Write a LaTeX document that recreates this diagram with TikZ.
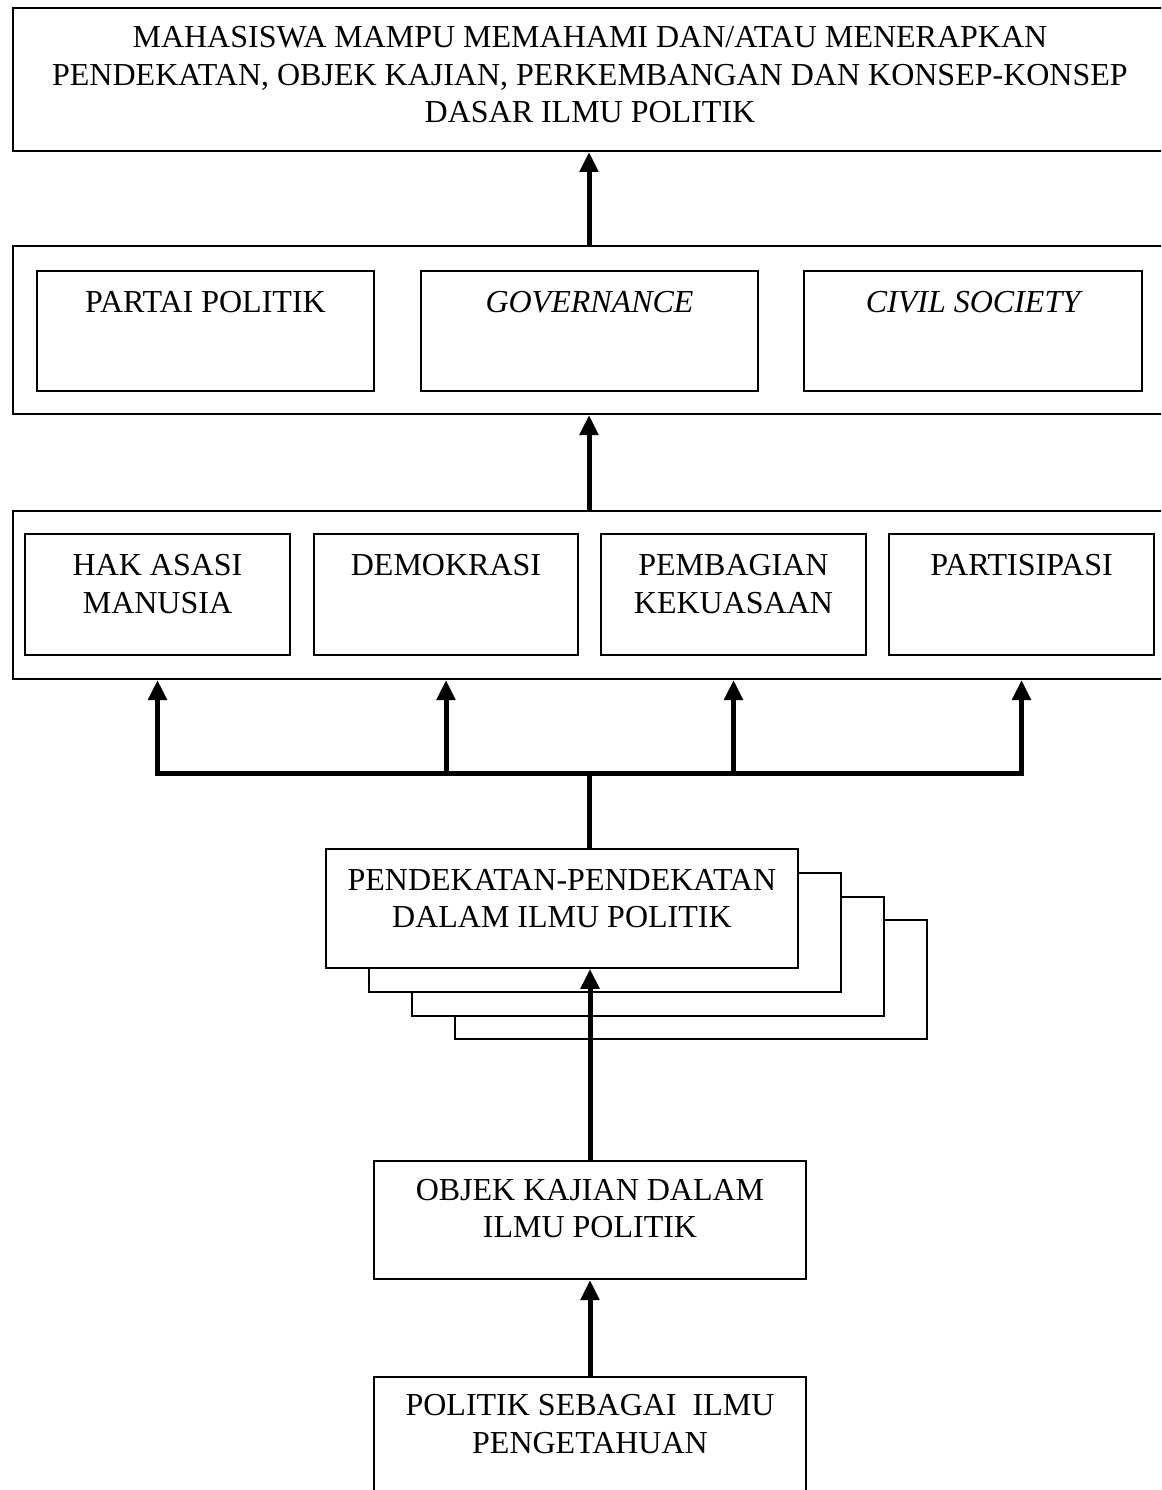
\documentclass[tikz,border=0pt]{standalone}
\usepackage{fontspec}
\setmainfont{Liberation Serif}
\usetikzlibrary{arrows.meta}
\begin{document}
\begin{tikzpicture}[x=1pt,y=-1pt,
  box/.style={draw,line width=2pt,fill=white,inner sep=0pt,anchor=north west},
  txt/.style={font=\fontsize{32}{37.5}\selectfont,align=center,anchor=base,inner sep=0pt},
  arr/.style={line width=5pt,-{Triangle[length=20pt,width=18pt]}},
  shaft/.style={line width=5pt}
]
\useasboundingbox (0,0) rectangle (1161,1490);
\clip (0,0) rectangle (1161,1490);
\fill[white] (0,0) rectangle (1161,1490);

% top goal box
\node[box,minimum width=1156pt,minimum height=143pt] (top) at (12,7) {};
\node[txt] (toptxt) at (590,122.7) {MAHASISWA MAMPU MEMAHAMI DAN/ATAU MENERAPKAN\\PENDEKATAN, OBJEK KAJIAN, PERKEMBANGAN DAN KONSEP-KONSEP\\DASAR ILMU POLITIK};

% second level
\node[box,minimum width=1156pt,minimum height=168pt] (outerB) at (12,245) {};
\node[box,minimum width=337pt,minimum height=120pt] (p1) at (36,270) {};
\node[box,minimum width=337pt,minimum height=120pt] (p2) at (420,270) {};
\node[box,minimum width=338pt,minimum height=120pt] (p3) at (803,270) {};
\node[txt] (p1t) at ([yshift=-42pt]p1.north) {PARTAI POLITIK};
\node[txt] (p2t) at ([yshift=-42pt]p2.north) {\itshape GOVERNANCE};
\node[txt] (p3t) at ([yshift=-42pt]p3.north) {\itshape CIVIL SOCIETY};

% third level
\node[box,minimum width=1156pt,minimum height=168pt] (outerC) at (12,510) {};
\node[box,minimum width=265pt,minimum height=121pt] (h1) at (24,533) {};
\node[box,minimum width=264pt,minimum height=121pt] (h2) at (313,533) {};
\node[box,minimum width=265pt,minimum height=121pt] (h3) at (600,533) {};
\node[box,minimum width=265pt,minimum height=121pt] (h4) at (888,533) {};
\node[txt] (h1t) at ([yshift=-80pt]h1.north) {HAK ASASI\\MANUSIA};
\node[txt] (h2t) at ([yshift=-42pt]h2.north) {DEMOKRASI};
\node[txt] (h3t) at ([yshift=-80pt]h3.north) {PEMBAGIAN\\KEKUASAAN};
\node[txt] (h4t) at ([yshift=-42pt]h4.north) {PARTISIPASI};

% stacked approach boxes
\node[box,line width=1.8pt,minimum width=472pt,minimum height=119pt] (s3) at (454,919) {};
\node[box,line width=1.8pt,minimum width=472pt,minimum height=119pt] (s2) at (411,896) {};
\node[box,line width=1.8pt,minimum width=472pt,minimum height=119pt] (s1) at (368,872) {};
\node[box,line width=1.8pt,minimum width=472pt,minimum height=119pt] (pend) at (325,848) {};
\node[txt] (pendt) at ([yshift=-79.5pt]pend.north) {PENDEKATAN-PENDEKATAN\\DALAM ILMU POLITIK};

% lower boxes
\node[box,minimum width=432pt,minimum height=118pt] (obj) at (373,1160) {};
\node[txt] (objt) at ([yshift=-77.5pt]obj.north) {OBJEK KAJIAN DALAM\\ILMU POLITIK};
\node[box,minimum width=432pt,minimum height=150pt] (pol) at (373,1376) {};
\node[txt] (polt) at ([yshift=-77pt]pol.north) {POLITIK SEBAGAI\ \ ILMU\\PENGETAHUAN};

% connectors
\coordinate (bar) at (589,773);
\draw[arr] (pol.north) -- (obj.south);
\draw[arr] (obj.north) -- (obj.north |- pend.south);
\draw[shaft] (pend.north -| bar) -- (bar);
\draw[shaft,line cap=rect] (h1.south |- bar) -- (h4.south |- bar);
\draw[arr] (h1.south |- bar) -- (h1.south |- outerC.south);
\draw[arr] (h2.south |- bar) -- (h2.south |- outerC.south);
\draw[arr] (h3.south |- bar) -- (h3.south |- outerC.south);
\draw[arr] (h4.south |- bar) -- (h4.south |- outerC.south);
\draw[arr] (outerC.north -| bar) -- (outerB.south -| bar);
\draw[arr] (outerB.north -| bar) -- (top.south -| bar);
\end{tikzpicture}
\end{document}
